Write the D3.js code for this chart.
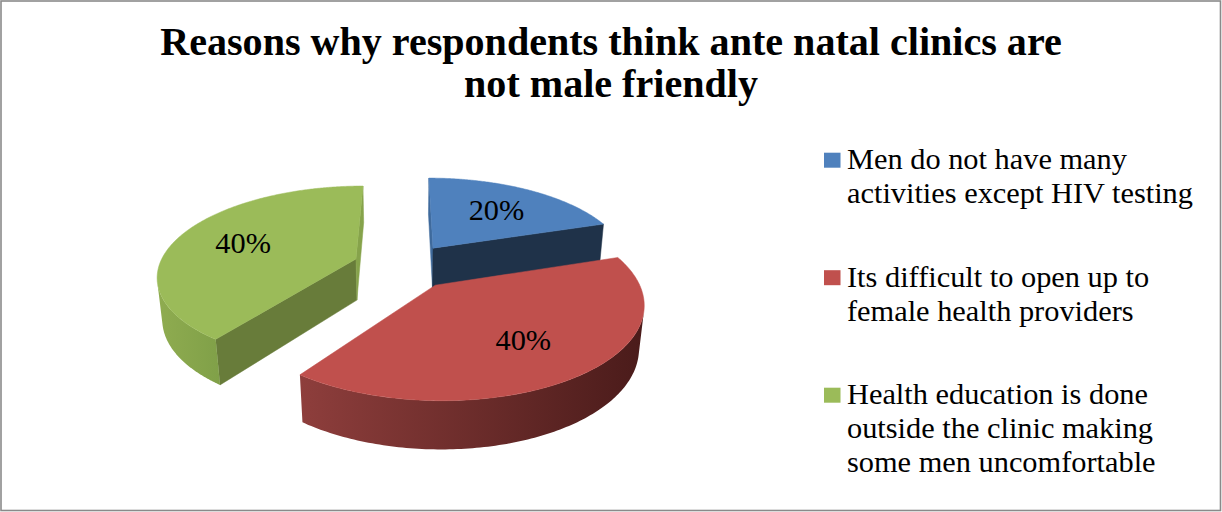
<!DOCTYPE html>
<html><head><meta charset="utf-8">
<script src="https://cdn.jsdelivr.net/npm/d3@7"></script>
<style>body{margin:0;background:#fff}svg{display:block}</style>
</head><body>
<svg id="chart" width="1222" height="512"></svg>
<script>
// ---------- data ----------
const titleLines = ["Reasons why respondents think ante natal clinics are", "not male friendly"];
const categories = [
  "Men do not have many activities except HIV testing",
  "Its difficult to open up to female health providers",
  "Health education is done outside the clinic making some men uncomfortable"
];
const legendLines = [
  ["Men do not have many", "activities except HIV testing"],
  ["Its difficult to open up to", "female health providers"],
  ["Health education is done", "outside the clinic making", "some men uncomfortable"]
];
const values = [20, 40, 40];
const labels = ["20%", "40%", "40%"];

// ---------- style ----------
const topColors  = ["#4F81BD", "#C0504D", "#9BBB59"];
const sideLight  = ["#4a76ad", "#8e3e3c", "#8fac50"];
const sideDark   = ["#2a4466", "#4a1b1a", "#80a048"];
const cutStart   = ["#3f6a9c", "#7a302e", "#687C3A"];
const cutEnd     = ["#1F3249", "#5a2220", "#86a34b"];
const FONT = "'Liberation Serif', 'Times New Roman', serif";

const VIEW = {k: 197, tilt: 26.5 * Math.PI / 180, persp: 0.194, depth: 0.24, explode: 0.26, cx: 404, cy: 266, labelR: 0.64};

const svg = d3.select("#chart");

// frame
svg.append("rect").attr("x", 1).attr("y", 1).attr("width", 1219.5).attr("height", 509.5)
  .attr("fill", "#fff").attr("stroke", "#8a8a8a").attr("stroke-width", 1.6);

// ---------- title ----------
const title = svg.append("g");
const tl = titleLines.map((t, i) => title.append("text")
  .attr("x", 611).attr("y", 55 + i * 42).attr("text-anchor", "middle")
  .attr("font-family", FONT).attr("font-weight", "bold").attr("font-size", 34)
  .attr("fill", "#000").text(t));
{
  const w = tl[0].node().getComputedTextLength();
  const fs = 34 * 902 / w;
  tl.forEach(t => t.attr("font-size", fs));
}

// ---------- 3D pie ----------
const cosT = Math.cos(VIEW.tilt), sinT = Math.sin(VIEW.tilt);
const Dn = 1 / VIEW.persp;
const cam = [0, Dn * sinT, Dn * cosT];
function project([X, Y, Z]) {
  const yc = Y * cosT - Z * sinT;
  const zc = Y * sinT + Z * cosT;
  const f = VIEW.k / (1 - VIEW.persp * zc);
  return [VIEW.cx + f * X, VIEW.cy - f * yc];
}
const pie = d3.pie().sort(null).value(d => d)(values);
const slices = pie.map((p, i) => Object.assign({}, p, {i, mid: (p.startAngle + p.endAngle) / 2}));

function P3(sl, rho, th, Y) {
  const ox = VIEW.explode * Math.sin(sl.mid), oz = -VIEW.explode * Math.cos(sl.mid);
  return [ox + rho * Math.sin(th), Y, oz - rho * Math.cos(th)];
}
function dirN(a) { return [Math.sin(a), 0, -Math.cos(a)]; }
function visible(n, p) {
  return n[0] * (cam[0] - p[0]) + n[1] * (cam[1] - p[1]) + n[2] * (cam[2] - p[2]) > 0;
}
const line = d3.line();
const poly = pts => line(pts.map(project)) + "Z";
const defs = svg.append("defs");
const pieG = svg.append("g");
const H = VIEW.depth;

const order = [0, 2, 1];
order.forEach(idx => {
  const sl = slices[idx];
  const a0 = sl.startAngle, a1 = sl.endAngle;
  const g = pieG.append("g");
  // radial faces
  [[a0, a0 - Math.PI / 2, cutStart[idx]], [a1, a1 + Math.PI / 2, cutEnd[idx]]].forEach(([a, na, col]) => {
    if (visible(dirN(na), P3(sl, 0.5, a, -H / 2))) {
      g.append("path").attr("d", poly([P3(sl, 0, a, 0), P3(sl, 1, a, 0), P3(sl, 1, a, -H), P3(sl, 0, a, -H)]))
        .attr("fill", col).attr("stroke", col).attr("stroke-width", 0.5);
    }
  });
  // outer curved side
  const N = Math.max(8, Math.ceil((a1 - a0) / (Math.PI / 360)));
  const runs = []; let cur = null;
  for (let j = 0; j < N; j++) {
    const t0 = a0 + (a1 - a0) * j / N, t1 = a0 + (a1 - a0) * (j + 1) / N, tm = (t0 + t1) / 2;
    const vis = visible(dirN(tm), P3(sl, 1, tm, -H / 2));
    if (vis) { if (!cur) { cur = [t0, t1]; runs.push(cur); } else cur[1] = t1; }
    else cur = null;
  }
  runs.forEach((r, ri) => {
    const M = 120, topPts = [], botPts = [];
    for (let j = 0; j <= M; j++) {
      const t = r[0] + (r[1] - r[0]) * j / M;
      topPts.push(P3(sl, 1, t, 0)); botPts.push(P3(sl, 1, t, -H));
    }
    const pts = topPts.concat(botPts.reverse());
    const xs = pts.map(p => project(p)[0]);
    const id = "side" + idx + "_" + ri;
    const gr = defs.append("linearGradient").attr("id", id).attr("gradientUnits", "userSpaceOnUse")
      .attr("x1", d3.min(xs)).attr("x2", d3.max(xs)).attr("y1", 0).attr("y2", 0);
    gr.append("stop").attr("offset", 0).attr("stop-color", sideLight[idx]);
    gr.append("stop").attr("offset", 1).attr("stop-color", sideDark[idx]);
    g.append("path").attr("d", poly(pts)).attr("fill", `url(#${id})`);
  });
  // top face
  const topPts = [P3(sl, 0, a0, 0)];
  const M = Math.ceil((a1 - a0) / (Math.PI / 360));
  for (let j = 0; j <= M; j++) topPts.push(P3(sl, 1, a0 + (a1 - a0) * j / M, 0));
  g.append("path").attr("d", poly(topPts)).attr("fill", topColors[idx])
    .attr("stroke", topColors[idx]).attr("stroke-width", 0.5);
});

// data labels
const labelSel = slices.map(sl => {
  const [x, y] = project(P3(sl, VIEW.labelR, sl.mid, 0));
  return svg.append("text").attr("x", x).attr("y", y).attr("dy", "0.35em")
    .attr("text-anchor", "middle").attr("font-family", FONT).attr("font-size", 27)
    .attr("fill", "#000").text(labels[sl.i]);
});

// ---------- legend ----------
const legY = d3.scaleLinear().domain([0, 1]).range([169.3, 286.8]);
const legend = svg.append("g");
const legTexts = [];
legendLines.forEach((lines, i) => {
  const y0 = legY(i);
  legend.append("rect").attr("x", 824).attr("y", y0 - 16.6).attr("width", 16.5).attr("height", 15)
    .attr("fill", topColors[i]);
  lines.forEach((ln, j) => {
    legTexts.push(legend.append("text").attr("x", 847).attr("y", y0 + j * 34)
      .attr("font-family", FONT).attr("font-size", 27).attr("fill", "#000").text(ln));
  });
});
{
  const ref = legTexts[1];
  const w = ref.node().getComputedTextLength();
  const fs = 27 * 346 / w;
  legTexts.forEach(t => t.attr("font-size", fs));
  labelSel.forEach(t => t.attr("font-size", fs));
}
</script>
</body></html>
